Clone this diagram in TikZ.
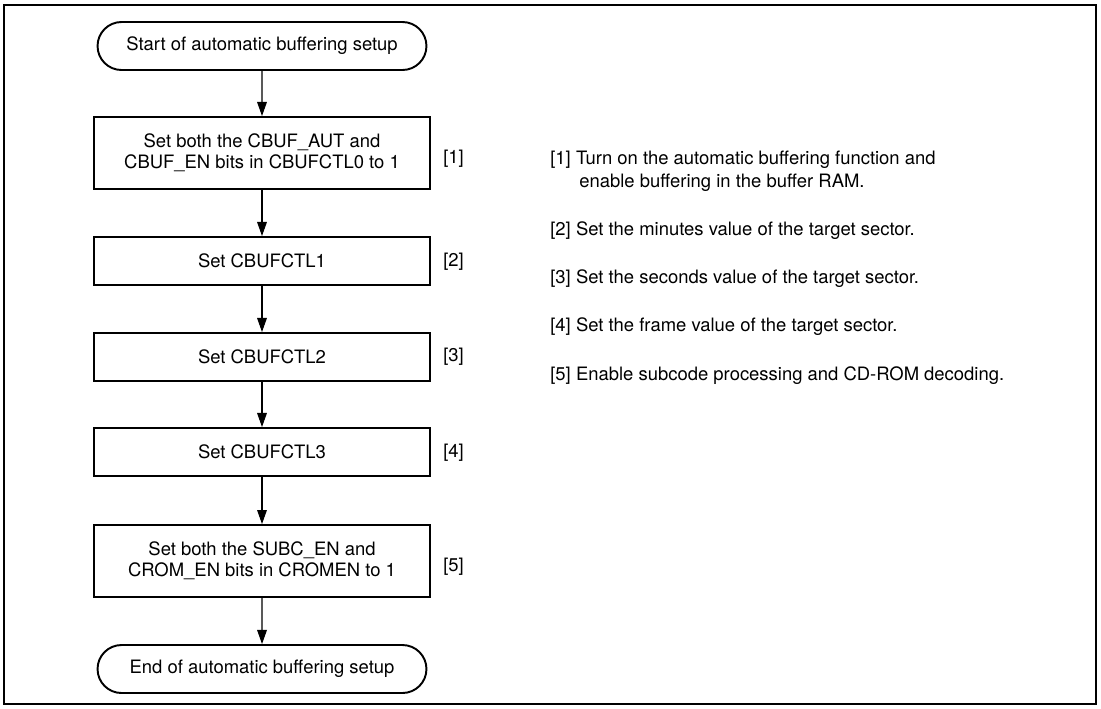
\documentclass[tikz,border=0pt]{standalone}
\usepackage{fontspec}
\setmainfont{TeX Gyre Heros}
\usetikzlibrary{arrows.meta,shapes.misc}

\tikzset{
  flow/.style={draw,line width=1.1pt,minimum width=6.72cm,align=center,inner sep=2pt},
  term/.style={flow,rounded rectangle,minimum height=.96cm},
  proc/.style={flow,rectangle,minimum height=.96cm},
  tall/.style={minimum height=1.44cm},
  link/.style={line width=.6pt,-{Triangle[length=8pt,width=5.5pt]}},
  tag/.style={anchor=west,inner sep=0pt},
}

\begin{document}
\begin{tikzpicture}[x=.02cm,y=-.02cm,font=\fontsize{10.5}{12}\selectfont]
\useasboundingbox(0,0)rectangle(1101,708);
\draw[line width=1.6pt](4,5)rectangle(1096,704);
% flow
\node[term](start)at(262,46){Start of automatic buffering setup};
\node[proc,tall](s1)at(262,153){Set both the CBUF\_AUT and\\CBUF\_EN bits in CBUFCTL0 to 1};
\node[proc](s2)at(262,261){Set CBUFCTL1};
\node[proc](s3)at(262,357){Set CBUFCTL2};
\node[proc](s4)at(262,452){Set CBUFCTL3};
\node[proc,tall](s5)at(262,561){Set both the SUBC\_EN and\\CROM\_EN bits in CROMEN to 1};
\node[term](stop)at(262,669){End of automatic buffering setup};
\foreach \a/\b in {start/s1,s1/s2,s2/s3,s3/s4,s4/s5,s5/stop}\draw[link](\a)--(\b);
% step numbers
\node[tag](n1)at(443,159){[1]};\node[tag](n2)at(443,262){[2]};\node[tag](n3)at(443,357){[3]};
\node[tag](n4)at(443,453){[4]};\node[tag](n5)at(443,567){[5]};
% notes
\node[tag](d1)at(550,160){[1] Turn on the automatic buffering function and};
\node[tag](d1b)at(579,183){enable buffering in the buffer RAM.};
\node[tag](d2)at(550,231){[2] Set the minutes value of the target sector.};
\node[tag](d3)at(550,279){[3] Set the seconds value of the target sector.};
\node[tag](d4)at(550,327){[4] Set the frame value of the target sector.};
\node[tag](d5)at(550,376){[5] Enable subcode processing and CD-ROM decoding.};
\end{tikzpicture}
\end{document}
